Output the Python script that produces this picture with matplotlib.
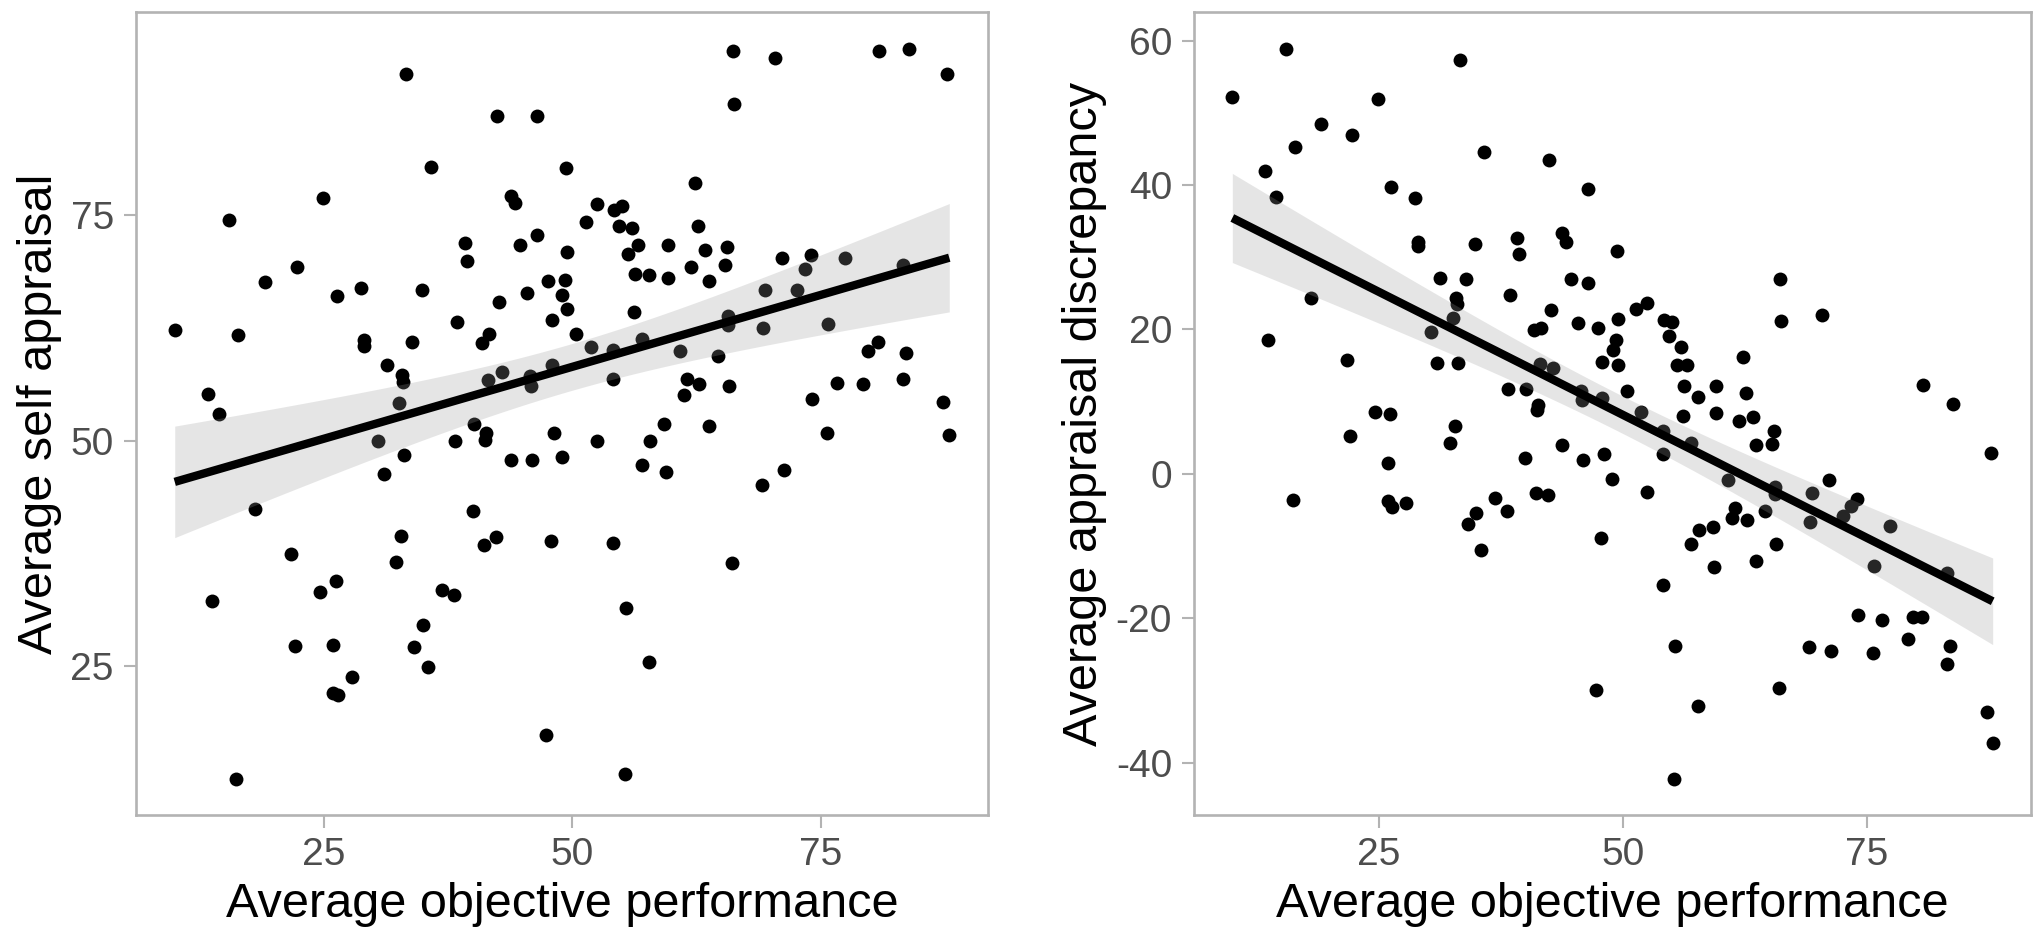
import numpy as np
import matplotlib
import matplotlib.pyplot as plt

matplotlib.use('Agg')
plt.rcParams['font.family'] = ['Liberation Sans', 'DejaVu Sans']
plt.rcParams['axes.unicode_minus'] = False

# average objective performance (x) and average self appraisal (y)
objective = [
    33.3, 42.4, 46.4, 35.8, 24.9, 43.8, 44.2, 15.5, 46.4, 39.2,
    44.7, 39.4, 22.3, 19.1, 47.5, 28.7, 26.3, 34.9, 45.4, 42.6,
    47.9, 38.4, 10.0, 16.4, 41.6, 40.9, 29.0, 29.0, 33.9, 31.3,
    32.9, 33.0, 42.9, 41.5, 45.7, 45.8, 47.9, 13.3,
    66.1, 70.4, 80.8, 83.8, 87.7, 66.2, 49.4, 62.3, 52.5, 54.2,
    55.0, 51.4, 54.7, 56.0, 62.6, 56.6, 59.6, 49.5, 65.5, 55.6,
    63.3, 71.1, 74.0, 77.4, 83.2, 61.9, 65.3, 56.3, 57.7, 59.6,
    49.3, 63.7, 73.4, 49.0, 69.4, 72.6, 49.5, 56.2, 65.6, 65.6,
    69.2, 75.7, 50.4, 51.9, 54.1, 57.0, 60.8, 64.6, 79.7, 80.7,
    83.5, 54.1, 61.5, 62.7, 65.7, 76.6, 79.2, 83.2, 61.2, 74.1,
    87.3,
    32.6, 14.5, 40.1, 41.3, 41.2, 30.4, 38.2, 48.1, 33.1, 43.8,
    45.9, 31.0, 18.1, 40.0, 32.8, 42.3, 41.1, 47.8, 21.7, 32.3,
    26.2, 24.6, 13.7, 36.9, 38.1, 35.0, 22.1, 25.9, 34.1, 35.5,
    27.8, 25.9, 26.4, 47.3, 16.2,
    48.9, 52.5, 57.8, 59.2, 63.7, 75.6, 87.9, 57.0, 59.4, 71.3,
    69.1, 54.1, 66.0, 55.4, 57.7, 55.3,
]
self_appraisal = [
    90.6, 85.9, 85.9, 80.3, 76.8, 77.1, 76.3, 74.4, 72.8, 71.9,
    71.7, 69.9, 69.2, 67.5, 67.7, 66.9, 66.0, 66.7, 66.3, 65.3,
    63.4, 63.1, 62.2, 61.7, 61.8, 60.8, 61.1, 60.5, 60.9, 58.4,
    57.3, 56.5, 57.6, 56.7, 57.2, 56.0, 58.4, 55.2,
    93.1, 92.4, 93.1, 93.4, 90.6, 87.3, 80.2, 78.5, 76.2, 75.5,
    76.0, 74.2, 73.8, 73.5, 73.8, 71.7, 71.7, 70.9, 71.4, 70.7,
    71.1, 70.2, 70.5, 70.2, 69.4, 69.2, 69.4, 68.4, 68.3, 68.0,
    67.8, 67.7, 69.0, 66.1, 66.7, 66.7, 64.6, 64.2, 63.8, 62.8,
    62.5, 62.9, 61.8, 60.4, 60.0, 61.2, 59.9, 59.4, 59.9, 60.9,
    59.7, 56.8, 56.8, 56.3, 56.0, 56.4, 56.3, 56.8, 55.1, 54.6,
    54.3,
    54.2, 52.9, 51.8, 50.8, 50.1, 50.0, 50.0, 50.8, 48.4, 47.8,
    47.8, 46.3, 42.4, 42.2, 39.4, 39.3, 38.5, 38.9, 37.4, 36.6,
    34.5, 33.2, 32.2, 33.5, 32.9, 29.6, 27.3, 27.4, 27.1, 24.9,
    23.8, 22.1, 21.8, 17.4, 12.6,
    48.2, 50.0, 50.0, 51.8, 51.6, 50.8, 50.6, 47.3, 46.5, 46.8,
    45.1, 38.7, 36.4, 31.5, 25.5, 13.1,
]

x_label = 'Average objective performance'
y_labels = ['Average self appraisal', 'Average appraisal discrepancy']
x_ticks = [25, 50, 75]
y_ticks = [[25, 50, 75], [-40, -20, 0, 20, 40, 60]]

x = np.array(objective)
y_self = np.array(self_appraisal)
# discrepancy = self appraisal minus objective performance
y_disc = y_self - x

T_CRIT = 1.976  # t(0.975, df ~ 148)
BORDER = '#b3b3b3'


def lm_band(xv, yv, n_grid=80):
    slope, icept = np.polyfit(xv, yv, 1)
    grid = np.linspace(xv.min(), xv.max(), n_grid)
    fit = icept + slope * grid
    resid = yv - (icept + slope * xv)
    n = len(xv)
    s = np.sqrt(np.sum(resid ** 2) / (n - 2))
    se = s * np.sqrt(1 / n + (grid - xv.mean()) ** 2 / np.sum((xv - xv.mean()) ** 2))
    return grid, fit, fit - T_CRIT * se, fit + T_CRIT * se


fig = plt.figure(figsize=(20.4, 9.44), dpi=100)
W, H = 2040, 944
ax1 = fig.add_axes([136 / W, 129 / H, 852 / W, 803 / H])
ax2 = fig.add_axes([1194.3 / W, 129 / H, 836.4 / W, 803 / H])

for ax, yv, ylab, yt in zip([ax1, ax2], [y_self, y_disc], y_labels, y_ticks):
    ax.scatter(x, yv, s=100, color='black', linewidths=0, zorder=2)
    grid, fit, lo, hi = lm_band(x, yv)
    ax.fill_between(grid, lo, hi, color='#999999', alpha=0.25, linewidth=0, zorder=3)
    ax.plot(grid, fit, color='black', linewidth=6, solid_capstyle='butt', zorder=4)

    ax.margins(x=0.05, y=0.05)
    ax.set_xticks(x_ticks)
    ax.set_yticks(yt)
    ax.tick_params(length=9, width=1.5, color=BORDER, labelsize=28,
                   labelcolor='#4d4d4d', pad=7)
    for sp in ax.spines.values():
        sp.set_color(BORDER)
        sp.set_linewidth(1.9)
    ax.set_xlabel(x_label, fontsize=35, labelpad=6)
    ax.set_ylabel(ylab, fontsize=35, labelpad=6)

fig.savefig('out.png', dpi=100)
